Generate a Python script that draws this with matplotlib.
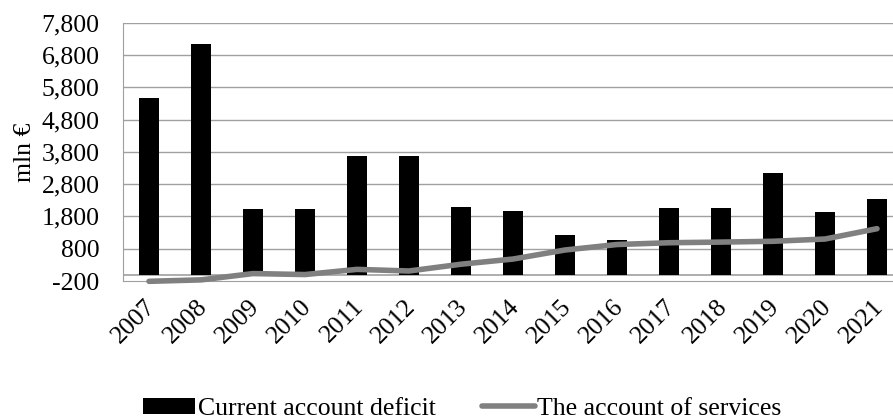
import matplotlib
matplotlib.use("Agg")
import matplotlib.pyplot as plt
import matplotlib.transforms as mtransforms
import numpy as np

years = ["2007", "2008", "2009", "2010", "2011", "2012", "2013", "2014",
         "2015", "2016", "2017", "2018", "2019", "2020", "2021"]
current_account_deficit = [5480, 7140, 2030, 2030, 3660, 3680, 2090, 1975,
                           1225, 1070, 2050, 2070, 3155, 1930, 2330]
services_account = [-210, -165, 30, 0, 160, 110, 320, 480,
                    760, 930, 985, 1005, 1030, 1100, 1420]
yticks = [-200, 800, 1800, 2800, 3800, 4800, 5800, 6800, 7800]

plt.rcParams['font.family'] = ['Liberation Serif', 'DejaVu Serif']
FS = 18.5

fig = plt.figure(figsize=(8.93, 4.19), dpi=100)
ax = fig.add_axes([123 / 893, 1 - 281 / 419, 780 / 893, (281 - 22.7) / 419])

x = np.arange(len(years))
grid_c = "#a0a0a0"
for t in yticks[1:]:
    ax.axhline(t, color=grid_c, lw=1.0, zorder=0)
ax.axhline(0, color=grid_c, lw=1.2, zorder=1)

bars = ax.bar(x, current_account_deficit, width=0.39, color="black",
              label="Current account deficit", zorder=2)
line, = ax.plot(x, services_account, color="#808080", lw=4.0, solid_capstyle="round",
                solid_joinstyle="round", label="The account of services", zorder=3,
                clip_on=False)

ax.set_xlim(-0.5, len(years) - 0.5)
ax.set_ylim(-200, 7800)
ax.set_yticks(yticks)
ax.set_yticklabels([f"{t:,}" for t in yticks], fontsize=FS)
ax.set_xticks(x)
ax.set_xticklabels(years, rotation=45, ha="right", va="center", fontsize=FS,
                   rotation_mode="anchor")
ax.tick_params(axis="both", length=0)
ax.tick_params(axis="y", pad=17)
ax.tick_params(axis="x", pad=16)
offset = mtransforms.ScaledTranslation(3 / 100, 0, fig.dpi_scale_trans)
for lab in ax.get_xticklabels():
    lab.set_transform(lab.get_transform() + offset)

for s in ["top", "right"]:
    ax.spines[s].set_visible(False)
ax.spines["left"].set_color(grid_c)
ax.spines["bottom"].set_color(grid_c)

ax.set_ylabel("mln €", fontsize=FS, labelpad=4)

fig.legend([bars, line], ["Current account deficit", "The account of services"],
           loc="center", bbox_to_anchor=(462 / 893, 1 - 409 / 419),
           ncol=2, frameon=False, fontsize=FS, handlelength=2.05, handleheight=0.6,
           handletextpad=0.1, columnspacing=1.8, borderpad=0, borderaxespad=0)

fig.savefig("out.png", dpi=100)
